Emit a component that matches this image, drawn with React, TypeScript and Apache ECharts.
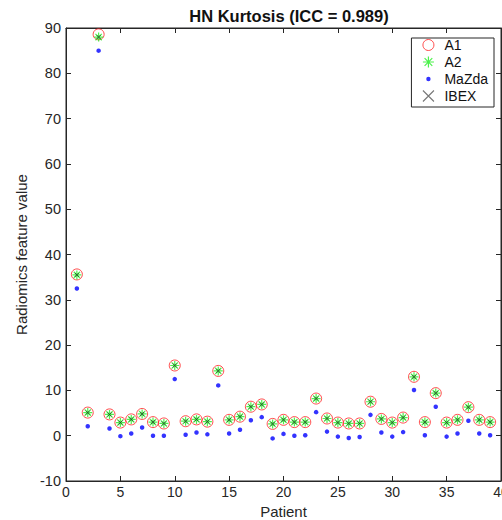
import React, { useEffect, useRef } from "react";
import * as echarts from "echarts";

const patients = [1, 2, 3, 4, 5, 6, 7, 8, 9, 10, 11, 12, 13, 14, 15, 16, 17, 18, 19, 20, 21, 22, 23, 24, 25, 26, 27, 28, 29, 30, 31, 32, 33, 34, 35, 36, 37, 38, 39];
const a1Values = [35.6, 5.1, 88.6, 4.7, 2.9, 3.6, 4.8, 3.0, 2.7, 15.5, 3.2, 3.6, 3.1, 14.3, 3.5, 4.2, 6.4, 6.9, 2.6, 3.5, 3.0, 3.0, 8.2, 3.8, 2.9, 2.7, 2.7, 7.5, 3.7, 2.9, 4.0, 13.0, 3.0, 9.4, 2.9, 3.5, 6.3, 3.5, 3.0];
const a2Values = [35.5, 5.1, 88.0, 4.7, 2.9, 3.6, 4.8, 3.0, 2.7, 15.5, 3.2, 3.6, 3.1, 14.3, 3.5, 4.2, 6.4, 6.9, 2.6, 3.5, 3.0, 3.0, 8.2, 3.8, 2.9, 2.7, 2.7, 7.5, 3.7, 2.9, 4.0, 13.0, 3.0, 9.4, 2.9, 3.5, 6.3, 3.5, 3.0];
const mazdaValues = [32.5, 2.1, 85.0, 1.6, -0.1, 0.5, 1.8, 0.0, 0.0, 12.5, 0.2, 0.7, 0.3, 11.1, 0.5, 1.3, 3.4, 4.1, -0.6, 0.4, 0.0, 0.1, 5.2, 0.9, -0.2, -0.5, -0.3, 4.6, 0.7, -0.2, 0.8, 10.1, 0.1, 6.4, -0.2, 0.5, 3.3, 0.5, 0.1];
const ibexValues = [35.5, 5.1, 88.0, 4.7, 2.9, 3.6, 4.8, 3.0, 2.7, 15.5, 3.2, 3.6, 3.1, 14.3, 3.5, 4.2, 6.4, 6.9, 2.6, 3.5, 3.0, 3.0, 8.2, 3.8, 2.9, 2.7, 2.7, 7.5, 3.7, 2.9, 4.0, 13.0, 3.0, 9.4, 2.9, 3.5, 6.3, 3.5, 3.0];

const FONT = "'Liberation Sans', Arial, Helvetica, sans-serif";
const AXIS_COLOR = "#262626";
const ASTERISK = "path://M5,0L5,10M0,5L10,5M1.5,1.5L8.5,8.5M1.5,8.5L8.5,1.5";
const CROSS = "path://M0,0L10,10M0,10L10,0";
const DOT_ICON = "path://M0,0M10,10M3,5A2,2,0,1,1,7,5A2,2,0,1,1,3,5Z";

const pairs = (vals: number[]) => patients.map((p, i) => [p, vals[i]]);

export default function App() {
  const ref = useRef<HTMLDivElement>(null);
  useEffect(() => {
    document.body.style.margin = "0";
    if (!ref.current) return;
    const chart = echarts.init(ref.current, null, { renderer: "svg" });
    const axisCommon = {
      type: "value" as const,
      axisLine: { show: true, onZero: false, lineStyle: { color: AXIS_COLOR, width: 1 } },
      axisTick: { show: true, inside: true, length: 5, lineStyle: { color: AXIS_COLOR } },
      splitLine: { show: false },
    };
    chart.setOption({
      animation: false,
      backgroundColor: "#fff",
      textStyle: { fontFamily: FONT },
      title: {
        text: "HN Kurtosis (ICC = 0.989)",
        left: 284,
        textAlign: "center",
        top: 2,
        textStyle: { fontFamily: FONT, fontSize: 16.5, fontWeight: "bold", color: "#111" },
      },
      grid: {
        left: 66,
        right: 1,
        top: 28,
        bottom: 39,
        containLabel: false,
        outerBoundsMode: "none",
        show: true,
        borderColor: AXIS_COLOR,
        borderWidth: 1,
        backgroundColor: "transparent",
      },
      legend: {
        orient: "vertical",
        right: 8,
        top: 38,
        padding: [0, 6, 3, 9],
        itemGap: 2,
        itemWidth: 22,
        itemHeight: 11,
        backgroundColor: "#fff",
        borderColor: AXIS_COLOR,
        borderWidth: 1,
        borderRadius: 0,
        textStyle: { fontFamily: FONT, fontSize: 14, color: "#111", lineHeight: 14 },
        data: [
          { name: "A1", icon: "circle", itemStyle: { color: "transparent", borderColor: "#ff2020", borderWidth: 1 } },
          { name: "A2", icon: ASTERISK, itemStyle: { color: "none", borderColor: "#22ee22", borderWidth: 1.2 } },
          { name: "MaZda", icon: DOT_ICON, itemStyle: { color: "#0000ff", borderWidth: 0 } },
          { name: "IBEX", icon: CROSS, itemStyle: { color: "none", borderColor: "#555", borderWidth: 1.1 } },
        ],
      },
      xAxis: [
        {
          ...axisCommon,
          min: 0,
          max: 40,
          interval: 5,
          position: "bottom",
          axisLabel: { color: AXIS_COLOR, fontSize: 14, margin: 4, fontFamily: FONT },
          name: "Patient",
          nameLocation: "middle",
          nameGap: 22,
          nameTextStyle: { fontSize: 15, color: AXIS_COLOR, fontFamily: FONT },
        },
        {
          ...axisCommon,
          min: 0,
          max: 40,
          interval: 5,
          position: "top",
          axisLabel: { show: false },
        },
      ],
      yAxis: [
        {
          ...axisCommon,
          min: -10,
          max: 90,
          interval: 10,
          position: "left",
          axisLabel: { color: AXIS_COLOR, fontSize: 14.5, margin: 5, fontFamily: FONT },
          name: "Radiomics feature value",
          nameLocation: "middle",
          nameGap: 31,
          nameTextStyle: { fontSize: 15, color: AXIS_COLOR, fontFamily: FONT },
        },
        {
          ...axisCommon,
          min: -10,
          max: 90,
          interval: 10,
          position: "right",
          axisLabel: { show: false },
        },
      ],
      series: [
        {
          name: "A1",
          type: "scatter",
          data: pairs(a1Values),
          symbol: "circle",
          symbolSize: 11,
          itemStyle: { color: "transparent", borderColor: "#ff2020", borderWidth: 1 },
        },
        {
          name: "A2",
          type: "scatter",
          data: pairs(a2Values),
          symbol: ASTERISK,
          symbolSize: 9,
          itemStyle: { color: "none", borderColor: "#22ee22", borderWidth: 1.2 },
        },
        {
          name: "MaZda",
          type: "scatter",
          data: pairs(mazdaValues),
          symbol: "circle",
          symbolSize: 4.5,
          itemStyle: { color: "#0000ff", borderWidth: 0 },
        },
        {
          name: "IBEX",
          type: "scatter",
          data: pairs(ibexValues),
          symbol: CROSS,
          symbolSize: 4,
          itemStyle: { color: "none", borderColor: "#333", borderWidth: 1 },
        },
      ],
    });
    return () => chart.dispose();
  }, []);
  return <div ref={ref} style={{ width: 502, height: 520 }} />;
}
